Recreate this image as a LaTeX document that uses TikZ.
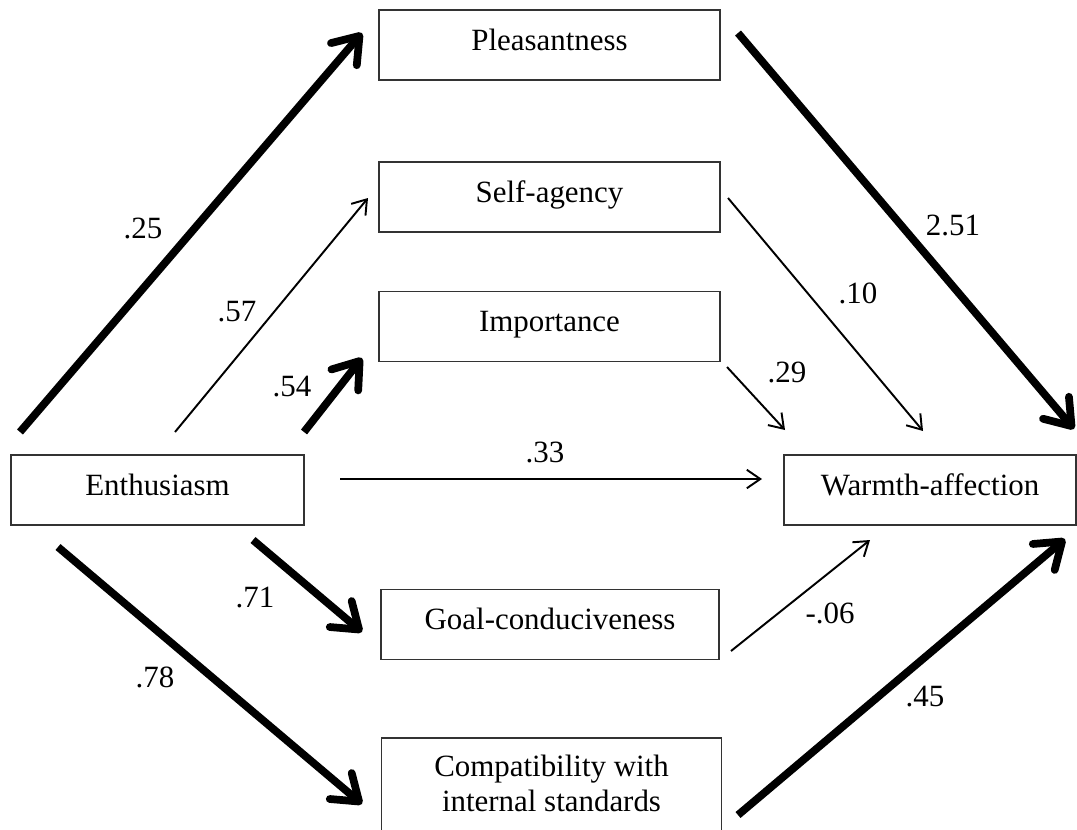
\documentclass[tikz,border=0pt]{standalone}
\usepackage{fontspec}
\setmainfont{Liberation Serif}
\usetikzlibrary{arrows.meta}

\tikzset{
  box/.style={draw=black!80, line width=0.9pt, minimum width=6.82cm, minimum height=1.4cm, inner sep=0pt},
  oneline/.style={text height=0.45cm, text depth=0.24cm},
  heavy/.style={line width=4.4pt, -{Straight Barb[length=4.8mm,width=6.8mm,round]}},
  light/.style={line width=1.1pt, -{Straight Barb[length=2.7mm,width=3.7mm]}},
  coef/.style={inner sep=0pt}
}

\begin{document}
\begin{tikzpicture}[x=0.02cm, y=-0.02cm, font=\fontsize{17.6}{19.8}\selectfont]
\useasboundingbox (0,0) rectangle (1077,829);

\node[box, oneline] (pleas) at (549.5,45) {Pleasantness};
\node[box, oneline] (agency) at (549.5,197) {Self-agency};
\node[box, oneline] (import) at (549.5,326.5) {Importance};
\node[box, oneline, minimum width=5.86cm] (enth) at (157.5,490) {Enthusiasm};
\node[box, oneline, minimum width=5.84cm] (warm) at (930,490) {Warmth-affection};
\node[box, oneline, minimum width=6.76cm] (goal) at (550,624.5) {Goal-conduciveness};
\node[box, anchor=north, minimum width=6.8cm, inner ysep=0.34cm, align=center] (compat) at (551.5,737)
  {Compatibility with\\internal standards\rule[-0.2cm]{0pt}{0.2cm}};

% arrow ends
\coordinate (enth-a) at (20,432);
\coordinate (enth-b) at (175,432);
\coordinate (enth-c) at (304,432);
\coordinate (enth-d) at (340,479);
\coordinate (enth-e) at (253,540);
\coordinate (enth-f) at (58,547);
\coordinate (pleas-in) at (362,33);
\coordinate (agency-in) at (368,198);
\coordinate (import-in) at (362,358);
\coordinate (goal-in) at (362,632);
\coordinate (compat-in) at (362,804);
\coordinate (pleas-out) at (738,33);
\coordinate (agency-out) at (728,198);
\coordinate (import-out) at (727,367);
\coordinate (goal-out) at (731,651);
\coordinate (compat-out) at (738,815);
\coordinate (warm-a) at (1074,429);
\coordinate (warm-b) at (923,431);
\coordinate (warm-c) at (785,430);
\coordinate (warm-d) at (762,479);
\coordinate (warm-e) at (870,540);
\coordinate (warm-f) at (1065,539);

\draw[heavy] (enth-a) -- (pleas-in);
\draw[light] (enth-b) -- (agency-in);
\draw[heavy] (enth-c) -- (import-in);
\draw[light] (enth-d) -- (warm-d);
\draw[heavy] (enth-e) -- (goal-in);
\draw[heavy] (enth-f) -- (compat-in);
\draw[heavy] (pleas-out) -- (warm-a);
\draw[light] (agency-out) -- (warm-b);
\draw[light] (import-out) -- (warm-c);
\draw[light] (goal-out) -- (warm-e);
\draw[heavy] (compat-out) -- (warm-f);

\node[coef] (c25) at (143,228) {.25};
\node[coef] (c57) at (237,312) {.57};
\node[coef] (c54) at (292,387) {.54};
\node[coef] (c33) at (545,452) {.33};
\node[coef] (c71) at (255,597) {.71};
\node[coef] (c78) at (155,677) {.78};
\node[coef] (c251) at (953,225) {2.51};
\node[coef] (c10) at (858,293) {.10};
\node[coef] (c29) at (787,372) {.29};
\node[coef] (c06) at (830,613) {-.06};
\node[coef] (c45) at (925,697) {.45};
\end{tikzpicture}
\end{document}
